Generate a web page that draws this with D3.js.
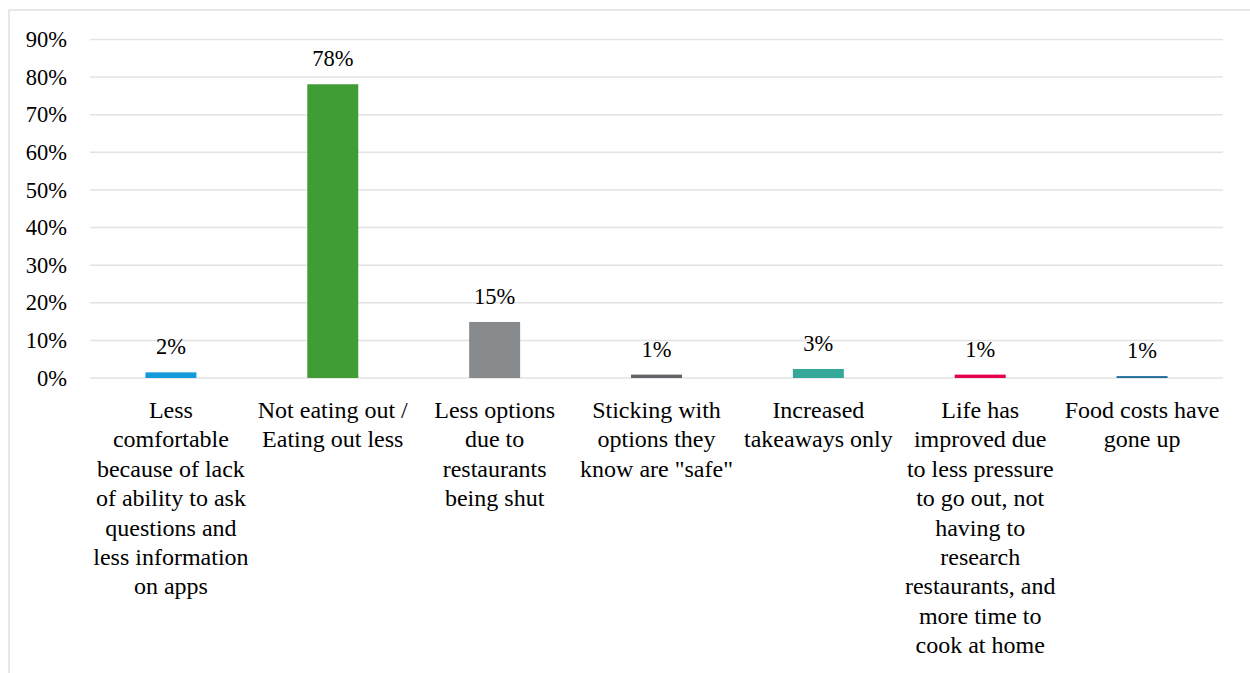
<!DOCTYPE html>
<html><head><meta charset="utf-8">
<script src="https://cdn.jsdelivr.net/npm/d3@7"></script>
</head><body style="margin:0">
<svg id="c" width="1250" height="673"></svg>
<script>
const categories = [
  ["Less","comfortable","because of lack","of ability to ask","questions and","less information","on apps"],
  ["Not eating out /","Eating out less"],
  ["Less options","due to","restaurants","being shut"],
  ["Sticking with","options they","know are \"safe\""],
  ["Increased","takeaways only"],
  ["Life has","improved due","to less pressure","to go out, not","having to","research","restaurants, and","more time to","cook at home"],
  ["Food costs have","gone up"]
];
const values = [1.5, 78.1, 14.9, 0.9, 2.4, 0.9, 0.5];
const valueLabels = ["2%","78%","15%","1%","3%","1%","1%"];
const colors = ["#129ada","#409c35","#888b8d","#616469","#35a899","#e4004e","#1b6a99"];
const yTicks = [0,10,20,30,40,50,60,70,80,90];

const svg = d3.select("#c");
const font = "Liberation Serif";
svg.append("rect").attr("x",9).attr("y",10).attr("width",1300).attr("height",700)
  .attr("fill","none").attr("stroke","#e0e0e0").attr("stroke-width",1.5);

const x = d3.scaleBand().domain(d3.range(categories.length)).range([90,1223]).paddingInner(0.685).paddingOuter(0.3425);
const y = d3.scaleLinear().domain([0,90]).range([378,39.5]);

svg.selectAll("line.grid").data(yTicks).join("line").attr("class","grid")
  .attr("x1",90).attr("x2",1223).attr("y1",d=>y(d)).attr("y2",d=>y(d))
  .attr("stroke","#e3e3e3").attr("stroke-width",1.5);

const yAxis = d3.axisLeft(y).tickValues(yTicks).tickFormat(d=>d+"%").tickSize(0).tickPadding(0);
const ya = svg.append("g").attr("transform","translate(67,0)").call(yAxis);
ya.attr("font-family",font).attr("font-size",22.5);
ya.select(".domain").remove();
ya.selectAll("text").style("font-family",font).style("font-size","22.5px").attr("fill","#000").attr("dy","0.32em");

svg.selectAll("rect.bar").data(values).join("rect").attr("class","bar")
  .attr("x",(d,i)=>x(i)).attr("width",x.bandwidth())
  .attr("y",d=>y(d)).attr("height",d=>y(0)-y(d))
  .attr("fill",(d,i)=>colors[i]);

values.forEach((v,i)=>{
  svg.append("text").attr("x",x(i)+x.bandwidth()/2).attr("y",y(v)-18)
    .attr("text-anchor","middle").style("font-family",font).style("font-size","22.5px")
    .text(valueLabels[i]);
});

categories.forEach((lines,i)=>{
  lines.forEach((l,j)=>{
    svg.append("text").attr("x",x(i)+x.bandwidth()/2).attr("y",418+j*29.4)
      .attr("text-anchor","middle").style("font-family",font).style("font-size","24px")
      .text(l);
  });
});
</script>
</body></html>
